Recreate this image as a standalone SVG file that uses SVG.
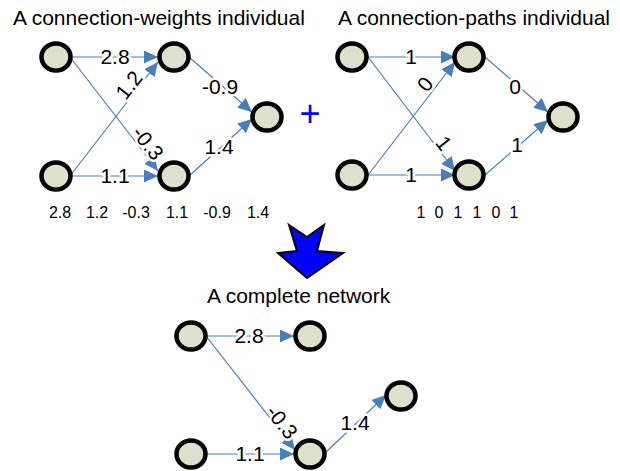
<svg xmlns="http://www.w3.org/2000/svg" width="620" height="471" viewBox="0 0 620 471">
<style>
.node{fill:#DDE0CB;stroke:#000;stroke-width:4.5}
.edge{stroke:#4A7EBB;stroke-width:1.2;fill:none;marker-end:url(#ah)}
text{font-family:"Liberation Sans",Arial,sans-serif;fill:#000}
.title{font-size:21px}
.lbl{font-size:21px;text-anchor:middle;stroke:#fff;stroke-width:5;paint-order:stroke;stroke-linejoin:round}
.seq{font-size:16px;text-anchor:middle}
</style>
<defs>
<marker id="ah" markerUnits="userSpaceOnUse" markerWidth="15" markerHeight="13" refX="14" refY="6.5" orient="auto">
<path d="M0,0 L14,6.5 L0,13 Z" fill="#4A7EBB"/>
</marker>
</defs>
<rect width="620" height="471" fill="#fff"/>
<text class="title" x="13" y="25">A connection-weights individual</text>
<text class="title" x="338" y="25">A connection-paths individual</text>
<text class="title" x="207" y="303">A complete network</text>
<g id="connectors">
<line class="edge" x1="70" y1="57" x2="158" y2="57"/>
<line class="edge" x1="70" y1="57" x2="158" y2="171"/>
<line class="edge" x1="70" y1="176" x2="158" y2="62"/>
<line class="edge" x1="70" y1="176" x2="158" y2="176"/>
<line class="edge" x1="189" y1="57" x2="252" y2="112"/>
<line class="edge" x1="189" y1="176" x2="252" y2="119"/>
<line class="edge" x1="368" y1="57" x2="455" y2="57"/>
<line class="edge" x1="368" y1="57" x2="455" y2="171"/>
<line class="edge" x1="368" y1="175" x2="455" y2="62"/>
<line class="edge" x1="368" y1="175" x2="455" y2="175"/>
<line class="edge" x1="485" y1="57" x2="548" y2="112"/>
<line class="edge" x1="485" y1="175" x2="548" y2="120"/>
<line class="edge" x1="206" y1="336" x2="294" y2="336"/>
<line class="edge" x1="206" y1="336" x2="295" y2="450"/>
<line class="edge" x1="206" y1="454" x2="294" y2="454"/>
<line class="edge" x1="324" y1="454" x2="386" y2="395"/>
<text class="lbl" x="115" y="57" dy=".35em">2.8</text>
<text class="lbl" x="115" y="176" dy=".35em">1.1</text>
<text class="lbl" transform="translate(129,85) rotate(-52)" dy=".35em">1.2</text>
<text class="lbl" transform="translate(148,143) rotate(52)" dy=".35em">-0.3</text>
<text class="lbl" x="220" y="87" dy=".35em">-0.9</text>
<text class="lbl" x="219" y="147" dy=".35em">1.4</text>
<text class="lbl" x="411" y="57" dy=".35em">1</text>
<text class="lbl" x="411" y="175" dy=".35em">1</text>
<text class="lbl" transform="translate(425,84) rotate(-52)" dy=".35em">0</text>
<text class="lbl" transform="translate(444,143) rotate(52)" dy=".35em">1</text>
<text class="lbl" x="515" y="87" dy=".35em">0</text>
<text class="lbl" x="517" y="145" dy=".35em">1</text>
<text class="lbl" x="249" y="336" dy=".35em">2.8</text>
<text class="lbl" x="250" y="454" dy=".35em">1.1</text>
<text class="lbl" transform="translate(282,422) rotate(52)" dy=".35em">-0.3</text>
<text class="lbl" x="355" y="423" dy=".35em">1.4</text>
</g>
<g id="n-a1"><ellipse class="node" cx="56" cy="57" rx="14.5" ry="13.5"/></g>
<g id="n-a2"><ellipse class="node" cx="56" cy="176" rx="14.5" ry="13.5"/></g>
<g id="n-b1"><ellipse class="node" cx="174" cy="57" rx="14.5" ry="13.5"/></g>
<g id="n-b2"><ellipse class="node" cx="174" cy="176" rx="14.5" ry="13.5"/></g>
<g id="n-c"><ellipse class="node" cx="267" cy="117" rx="14.5" ry="13.5"/></g>
<g id="n-d1"><ellipse class="node" cx="352" cy="57" rx="14.5" ry="13.5"/></g>
<g id="n-d2"><ellipse class="node" cx="352" cy="175" rx="14.5" ry="13.5"/></g>
<g id="n-e1"><ellipse class="node" cx="469" cy="57" rx="14.5" ry="13.5"/></g>
<g id="n-e2"><ellipse class="node" cx="469" cy="175" rx="14.5" ry="13.5"/></g>
<g id="n-f"><ellipse class="node" cx="563" cy="117" rx="14.5" ry="13.5"/></g>
<g id="n-g1"><ellipse class="node" cx="191" cy="336" rx="14.5" ry="13.5"/></g>
<g id="n-h1"><ellipse class="node" cx="310" cy="336" rx="14.5" ry="13.5"/></g>
<g id="n-g2"><ellipse class="node" cx="191" cy="454" rx="14.5" ry="13.5"/></g>
<g id="n-h2"><ellipse class="node" cx="310" cy="454" rx="14.5" ry="13.5"/></g>
<g id="n-i"><ellipse class="node" cx="401" cy="396" rx="14.5" ry="13.5"/></g>
<g id="seq-weights">
<text class="seq" x="60" y="218">2.8</text>
<text class="seq" x="97" y="218">1.2</text>
<text class="seq" x="136" y="218">-0.3</text>
<text class="seq" x="177" y="218">1.1</text>
<text class="seq" x="217" y="218">-0.9</text>
<text class="seq" x="258" y="218">1.4</text>
</g>
<g id="seq-paths">
<text class="seq" x="421" y="218">1</text>
<text class="seq" x="439" y="218">0</text>
<text class="seq" x="458" y="218">1</text>
<text class="seq" x="477" y="218">1</text>
<text class="seq" x="496" y="218">0</text>
<text class="seq" x="514" y="218">1</text>
</g>
<text x="310" y="126" font-size="36" text-anchor="middle" style="fill:#0000FF">+</text>
<polygon points="289,225 307,237 324,225 317,251 343,253 307,278 278,253 297,251" fill="#0000FF" stroke="#000" stroke-width="2" stroke-linejoin="miter"/>
</svg>
